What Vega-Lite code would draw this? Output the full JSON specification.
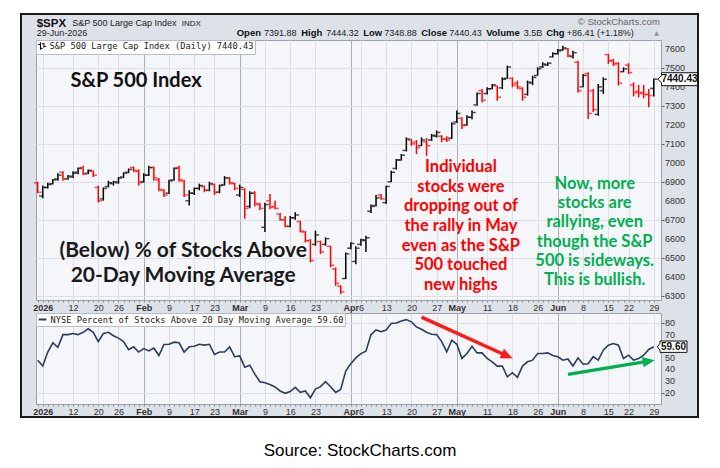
{
"$schema": "https://vega.github.io/schema/vega-lite/v6.json",
"background": "#ffffff",
"padding": {"left": 20, "top": 13, "right": 0, "bottom": 4},
"title": {"text": "Source: StockCharts.com", "orient": "bottom", "anchor": "middle", "font": "Liberation Sans", "fontSize": 17, "fontWeight": "normal", "color": "#000000", "offset": 25},
"datasets": {"days": [
{"d":"2025-12-31","o":6895,"h":6900,"l":6840,"c":6845,"p":48},
{"d":"2026-01-02","o":6825,"h":6880,"l":6813,"c":6870,"p":43},
{"d":"2026-01-05","o":6870,"h":6895,"l":6865,"c":6885,"p":55},
{"d":"2026-01-06","o":6890,"h":6915,"l":6885,"c":6910,"p":63},
{"d":"2026-01-07","o":6915,"h":6945,"l":6905,"c":6935,"p":59},
{"d":"2026-01-08","o":6950,"h":6955,"l":6905,"c":6915,"p":70},
{"d":"2026-01-09","o":6915,"h":6935,"l":6910,"c":6930,"p":70},
{"d":"2026-01-12","o":6925,"h":6955,"l":6920,"c":6945,"p":71},
{"d":"2026-01-13","o":6950,"h":6975,"l":6940,"c":6970,"p":70},
{"d":"2026-01-14","o":6975,"h":6985,"l":6935,"c":6940,"p":72},
{"d":"2026-01-15","o":6945,"h":6965,"l":6940,"c":6960,"p":75},
{"d":"2026-01-16","o":6955,"h":6960,"l":6925,"c":6935,"p":72},
{"d":"2026-01-20","o":6870,"h":6880,"l":6790,"c":6800,"p":64},
{"d":"2026-01-21","o":6810,"h":6870,"l":6800,"c":6865,"p":71},
{"d":"2026-01-22","o":6875,"h":6905,"l":6870,"c":6895,"p":72},
{"d":"2026-01-23","o":6890,"h":6905,"l":6880,"c":6900,"p":69},
{"d":"2026-01-26","o":6895,"h":6925,"l":6890,"c":6920,"p":67},
{"d":"2026-01-27","o":6925,"h":6950,"l":6920,"c":6945,"p":64},
{"d":"2026-01-28","o":6950,"h":6970,"l":6945,"c":6965,"p":57},
{"d":"2026-01-29","o":6975,"h":6980,"l":6950,"c":6960,"p":59.5},
{"d":"2026-01-30","o":6955,"h":6965,"l":6880,"c":6895,"p":55},
{"d":"2026-02-02","o":6900,"h":6945,"l":6895,"c":6935,"p":58},
{"d":"2026-02-03","o":6935,"h":6985,"l":6930,"c":6975,"p":56},
{"d":"2026-02-04","o":6975,"h":6980,"l":6905,"c":6920,"p":58.5},
{"d":"2026-02-05","o":6910,"h":6920,"l":6850,"c":6860,"p":52},
{"d":"2026-02-06","o":6855,"h":6860,"l":6820,"c":6830,"p":61.5},
{"d":"2026-02-09","o":6840,"h":6910,"l":6835,"c":6905,"p":61.7},
{"d":"2026-02-10","o":6910,"h":6975,"l":6905,"c":6970,"p":63.5},
{"d":"2026-02-11","o":6975,"h":6985,"l":6900,"c":6910,"p":63},
{"d":"2026-02-12","o":6905,"h":6910,"l":6820,"c":6830,"p":55},
{"d":"2026-02-13","o":6800,"h":6855,"l":6775,"c":6840,"p":59.5},
{"d":"2026-02-17","o":6840,"h":6870,"l":6830,"c":6865,"p":60},
{"d":"2026-02-18","o":6865,"h":6890,"l":6855,"c":6880,"p":61.7},
{"d":"2026-02-19","o":6875,"h":6880,"l":6845,"c":6855,"p":61},
{"d":"2026-02-20","o":6855,"h":6900,"l":6850,"c":6890,"p":61.7},
{"d":"2026-02-23","o":6885,"h":6890,"l":6830,"c":6845,"p":53},
{"d":"2026-02-24","o":6845,"h":6885,"l":6840,"c":6880,"p":55},
{"d":"2026-02-25","o":6885,"h":6930,"l":6880,"c":6920,"p":55},
{"d":"2026-02-26","o":6920,"h":6925,"l":6885,"c":6895,"p":59.5},
{"d":"2026-02-27","o":6890,"h":6895,"l":6855,"c":6865,"p":51},
{"d":"2026-03-02","o":6830,"h":6885,"l":6820,"c":6870,"p":51.7},
{"d":"2026-03-03","o":6860,"h":6865,"l":6705,"c":6760,"p":42},
{"d":"2026-03-04","o":6770,"h":6850,"l":6760,"c":6840,"p":43.7},
{"d":"2026-03-05","o":6840,"h":6850,"l":6770,"c":6785,"p":36},
{"d":"2026-03-06","o":6780,"h":6790,"l":6750,"c":6760,"p":29.5},
{"d":"2026-03-09","o":6660,"h":6790,"l":6635,"c":6780,"p":28.6},
{"d":"2026-03-10","o":6800,"h":6835,"l":6755,"c":6765,"p":27},
{"d":"2026-03-11","o":6770,"h":6800,"l":6755,"c":6760,"p":25},
{"d":"2026-03-12","o":6730,"h":6735,"l":6695,"c":6700,"p":21.5},
{"d":"2026-03-13","o":6700,"h":6720,"l":6660,"c":6665,"p":19.5},
{"d":"2026-03-16","o":6665,"h":6720,"l":6660,"c":6710,"p":21},
{"d":"2026-03-17","o":6710,"h":6740,"l":6700,"c":6725,"p":24.6},
{"d":"2026-03-18","o":6690,"h":6695,"l":6633,"c":6640,"p":20.3},
{"d":"2026-03-19","o":6635,"h":6640,"l":6580,"c":6590,"p":21.5},
{"d":"2026-03-20","o":6590,"h":6598,"l":6475,"c":6485,"p":15.7},
{"d":"2026-03-23","o":6570,"h":6642,"l":6563,"c":6620,"p":23.2},
{"d":"2026-03-24","o":6585,"h":6590,"l":6519,"c":6530,"p":25.2},
{"d":"2026-03-25","o":6570,"h":6607,"l":6563,"c":6600,"p":29.5},
{"d":"2026-03-26","o":6560,"h":6563,"l":6449,"c":6460,"p":25.2},
{"d":"2026-03-27","o":6440,"h":6449,"l":6352,"c":6365,"p":20.3},
{"d":"2026-03-30","o":6350,"h":6355,"l":6308,"c":6320,"p":22.9},
{"d":"2026-03-31","o":6390,"h":6528,"l":6387,"c":6520,"p":38.6},
{"d":"2026-04-01","o":6550,"h":6581,"l":6545,"c":6575,"p":45},
{"d":"2026-04-02","o":6480,"h":6560,"l":6466,"c":6550,"p":50},
{"d":"2026-04-06","o":6570,"h":6600,"l":6563,"c":6595,"p":53.7},
{"d":"2026-04-07","o":6590,"h":6615,"l":6530,"c":6605,"p":55.7},
{"d":"2026-04-08","o":6745,"h":6780,"l":6735,"c":6770,"p":70},
{"d":"2026-04-09","o":6775,"h":6830,"l":6770,"c":6815,"p":74},
{"d":"2026-04-10","o":6830,"h":6835,"l":6805,"c":6810,"p":72.5},
{"d":"2026-04-13","o":6790,"h":6880,"l":6783,"c":6875,"p":74},
{"d":"2026-04-14","o":6900,"h":6958,"l":6897,"c":6950,"p":79.5},
{"d":"2026-04-15","o":6970,"h":7020,"l":6965,"c":7015,"p":80},
{"d":"2026-04-16","o":7015,"h":7046,"l":7011,"c":7040,"p":81.7},
{"d":"2026-04-17","o":7065,"h":7134,"l":7060,"c":7125,"p":82.9},
{"d":"2026-04-20","o":7120,"h":7125,"l":7090,"c":7100,"p":81},
{"d":"2026-04-21","o":7110,"h":7120,"l":7046,"c":7080,"p":76.6},
{"d":"2026-04-22","o":7090,"h":7134,"l":7088,"c":7120,"p":74.6},
{"d":"2026-04-23","o":7110,"h":7130,"l":7037,"c":7090,"p":72},
{"d":"2026-04-24","o":7120,"h":7152,"l":7115,"c":7145,"p":70.3},
{"d":"2026-04-27","o":7140,"h":7170,"l":7134,"c":7160,"p":70},
{"d":"2026-04-28","o":7140,"h":7145,"l":7108,"c":7125,"p":64},
{"d":"2026-04-29","o":7125,"h":7140,"l":7110,"c":7120,"p":55.2},
{"d":"2026-04-30","o":7130,"h":7213,"l":7125,"c":7205,"p":65.2},
{"d":"2026-05-01","o":7215,"h":7275,"l":7210,"c":7260,"p":61.7},
{"d":"2026-05-04","o":7235,"h":7240,"l":7178,"c":7195,"p":49.5},
{"d":"2026-05-05","o":7200,"h":7250,"l":7195,"c":7240,"p":53.7},
{"d":"2026-05-06","o":7240,"h":7275,"l":7230,"c":7265,"p":60},
{"d":"2026-05-07","o":7305,"h":7371,"l":7300,"c":7365,"p":54.3},
{"d":"2026-05-08","o":7380,"h":7389,"l":7318,"c":7330,"p":54.3},
{"d":"2026-05-11","o":7365,"h":7398,"l":7360,"c":7390,"p":49.5},
{"d":"2026-05-12","o":7390,"h":7415,"l":7388,"c":7410,"p":46.6},
{"d":"2026-05-13","o":7405,"h":7407,"l":7327,"c":7345,"p":42.9},
{"d":"2026-05-14","o":7395,"h":7450,"l":7389,"c":7440,"p":42.9},
{"d":"2026-05-15","o":7445,"h":7512,"l":7442,"c":7505,"p":33.7},
{"d":"2026-05-18","o":7445,"h":7450,"l":7398,"c":7410,"p":37.2},
{"d":"2026-05-19","o":7420,"h":7433,"l":7389,"c":7400,"p":33.2},
{"d":"2026-05-20","o":7390,"h":7398,"l":7327,"c":7345,"p":42.9},
{"d":"2026-05-21","o":7360,"h":7433,"l":7354,"c":7425,"p":46.6},
{"d":"2026-05-22","o":7420,"h":7459,"l":7410,"c":7450,"p":48},
{"d":"2026-05-26","o":7460,"h":7503,"l":7459,"c":7495,"p":53.7},
{"d":"2026-05-27","o":7505,"h":7530,"l":7500,"c":7520,"p":53.7},
{"d":"2026-05-28","o":7515,"h":7530,"l":7510,"c":7525,"p":54.3},
{"d":"2026-05-29","o":7558,"h":7582,"l":7555,"c":7575,"p":52},
{"d":"2026-06-01","o":7575,"h":7600,"l":7570,"c":7590,"p":50.9},
{"d":"2026-06-02","o":7595,"h":7617,"l":7590,"c":7605,"p":48},
{"d":"2026-06-03","o":7600,"h":7605,"l":7556,"c":7565,"p":49},
{"d":"2026-06-04","o":7560,"h":7590,"l":7550,"c":7580,"p":43},
{"d":"2026-06-05","o":7530,"h":7538,"l":7371,"c":7380,"p":50},
{"d":"2026-06-08","o":7400,"h":7468,"l":7398,"c":7460,"p":44.5},
{"d":"2026-06-09","o":7470,"h":7477,"l":7231,"c":7260,"p":45},
{"d":"2026-06-10","o":7380,"h":7389,"l":7266,"c":7280,"p":51},
{"d":"2026-06-11","o":7255,"h":7415,"l":7248,"c":7400,"p":48},
{"d":"2026-06-12","o":7380,"h":7450,"l":7363,"c":7440,"p":56.6},
{"d":"2026-06-15","o":7570,"h":7575,"l":7521,"c":7535,"p":60.9},
{"d":"2026-06-16","o":7540,"h":7547,"l":7510,"c":7520,"p":62.3},
{"d":"2026-06-17","o":7525,"h":7530,"l":7407,"c":7420,"p":60.9},
{"d":"2026-06-18","o":7480,"h":7503,"l":7477,"c":7495,"p":49.5},
{"d":"2026-06-22","o":7515,"h":7525,"l":7468,"c":7475,"p":52.3},
{"d":"2026-06-23","o":7410,"h":7424,"l":7350,"c":7370,"p":48},
{"d":"2026-06-24","o":7375,"h":7410,"l":7345,"c":7365,"p":49.5},
{"d":"2026-06-25","o":7370,"h":7410,"l":7340,"c":7360,"p":52.3},
{"d":"2026-06-26","o":7360,"h":7389,"l":7292,"c":7354.02,"p":57.2},
{"d":"2026-06-29","o":7391.88,"h":7444.32,"l":7348.88,"c":7440.43,"p":59.6}
],
"priceTicks": [{"v":6300},{"v":6400},{"v":6500},{"v":6600},{"v":6700},{"v":6800},{"v":6900},{"v":7000},{"v":7100},{"v":7200},{"v":7300},{"v":7400},{"v":7500},{"v":7600}],
"pctTicks": [{"v":20},{"v":30},{"v":40},{"v":50},{"v":70},{"v":80}]
},
"align": "none",
"spacing": -402,
"resolve": {"scale": {"color": "independent"}, "legend": {"color": "independent"}},
"vconcat": [
{"width": 677, "height": 403, "data": {"values": []}, "mark": "point", "view": {"fill": "#dde1e8", "stroke": "#1b1b1b", "strokeWidth": 2}},
{"spacing": 0, "resolve": {"scale": {"color": "independent"}, "legend": {"color": "independent"}}, "hconcat": [
 {"width": 11, "height": 5, "data": {"values": []}, "mark": "point", "view": {"stroke": null, "fill": null}},
 {"align": "none", "spacing": -4, "resolve": {"scale": {"color": "independent"}, "legend": {"color": "independent"}}, "vconcat": [
  {"width": 625, "height": 260, "data": {"name": "days"},
   "encoding": {"x": {"field": "d", "type": "ordinal", "title": null, "scale": {"type": "point", "padding": 0.88, "align": 0.19},
     "axis": {"orient": "bottom", "labelAngle": 0, "labelOverlap": false, "labelBound": false, "labelFlush": false, "labelFont": "Liberation Sans", "labelFontSize": 9, "labelColor": "#333333", "labelPadding": 1, "domain": false, "ticks": true, "tickSize": 2, "tickColor": "#8a8f98", "grid": true,
      "labelExpr": "indexof(['2026-01-02','2026-01-12','2026-01-20','2026-01-26','2026-02-02','2026-02-09','2026-02-17','2026-02-23','2026-03-02','2026-03-09','2026-03-16','2026-03-23','2026-04-01','2026-04-06','2026-04-13','2026-04-20','2026-04-27','2026-05-01','2026-05-11','2026-05-18','2026-05-26','2026-06-01','2026-06-08','2026-06-15','2026-06-22','2026-06-29'], datum.value) < 0 ? '' : datum.value == '2026-01-02' ? '2026' : indexof(['2026-02-02','2026-03-02','2026-04-01','2026-05-01','2026-06-01'], datum.value) >= 0 ? ['Jan','Feb','Mar','Apr','May','Jun'][toNumber(substring(datum.value,5,7))-1] : '' + toNumber(substring(datum.value,8,10))",
      "labelFontWeight": {"condition": {"test": "indexof(['2026-01-02','2026-02-02','2026-03-02','2026-04-01','2026-05-01','2026-06-01'], datum.value) >= 0", "value": "bold"}, "value": "normal"},
      "gridColor": {"condition": {"test": "indexof(['2026-02-02','2026-03-02','2026-04-01','2026-05-01','2026-06-01'], datum.value) >= 0", "value": "#aab0ba"}, "value": "#dde1e7"},
      "gridOpacity": {"condition": {"test": "indexof(['2026-01-02','2026-01-12','2026-01-20','2026-01-26','2026-02-02','2026-02-09','2026-02-17','2026-02-23','2026-03-02','2026-03-09','2026-03-16','2026-03-23','2026-04-01','2026-04-06','2026-04-13','2026-04-20','2026-04-27','2026-05-01','2026-05-11','2026-05-18','2026-05-26','2026-06-01','2026-06-08','2026-06-15','2026-06-22','2026-06-29'], datum.value) >= 0", "value": 1}, "value": 0}}}},
   "layer": [
    {"mark": {"type": "rule", "strokeWidth": 1.5},
     "encoding": {"y": {"field": "l", "type": "quantitative", "title": null, "scale": {"domain": [6277, 7647], "nice": false, "zero": false},
        "axis": {"orient": "right", "values": [6300,6400,6500,6600,6700,6800,6900,7000,7100,7200,7300,7400,7500,7600], "labels": false, "tickSize": 3, "tickColor": "#666666", "gridColor": "#dde1e7", "domain": false}},
      "y2": {"field": "h"},
      "color": {"datum": "S&P 500 Large Cap Index (Daily) 7440.43", "type": "nominal", "condition": {"test": "datum.c < datum.o", "value": "#ff0000"}, "scale": {"range": ["#000000"]},
        "legend": {"orient": "top-left", "offset": 0, "title": null, "padding": 1.5, "fillColor": "#ffffff", "strokeColor": "#b7bdc6", "labelFont": "DejaVu Sans Mono", "labelFontSize": 8.7, "labelColor": "#222222", "labelLimit": 400, "labelOffset": 3, "symbolType": "M-0.4,-1V1M-0.4,-0.4H-1M-0.4,0.6H0.2M0.5,-0.8V0.4M0.5,-0.6H0M0.5,0.1H1", "symbolSize": 60, "symbolStrokeWidth": 1, "symbolFillColor": "transparent"}}}},
    {"mark": {"type": "tick", "orient": "horizontal", "size": 3, "thickness": 1.5, "xOffset": -2.2},
     "encoding": {"y": {"field": "o", "type": "quantitative", "title": null, "scale": {"domain": [6277, 7647], "nice": false, "zero": false}},
      "color": {"condition": {"test": "datum.c < datum.o", "value": "#ff0000"}, "value": "#000000"}}},
    {"mark": {"type": "tick", "orient": "horizontal", "size": 3, "thickness": 1.5, "xOffset": 2.2},
     "encoding": {"y": {"field": "c", "type": "quantitative", "title": null, "scale": {"domain": [6277, 7647], "nice": false, "zero": false}},
      "color": {"condition": {"test": "datum.c < datum.o", "value": "#ff0000"}, "value": "#000000"}}},
    {"data": {"name": "priceTicks"}, "mark": {"type": "text", "align": "left", "baseline": "middle", "dx": 11.2, "font": "Liberation Sans", "fontSize": 9, "color": "#333333"},
     "encoding": {"x": {"datum": "2026-06-29", "type": "ordinal", "title": null}, "y": {"field": "v", "type": "quantitative", "title": null}, "text": {"field": "v", "type": "quantitative", "format": "d"}}},
    {"data": {"values": [{}]}, "mark": {"type": "text", "text": "S&P 500 Index", "align": "center", "baseline": "middle", "dx": 2.4, "font": "Lato", "fontSize": 20, "fontWeight": "bold", "color": "#111111"},
     "encoding": {"x": {"datum": "2026-01-29", "type": "ordinal", "title": null}, "y": {"datum": 7433, "type": "quantitative", "title": null}}},
    {"data": {"values": [{}]}, "mark": {"type": "text", "text": ["(Below) % of Stocks Above", "20-Day Moving Average"], "lineHeight": 25, "align": "center", "baseline": "middle", "dx": -1, "font": "Lato", "fontSize": 21, "fontWeight": "bold", "color": "#1a1a1a"},
     "encoding": {"x": {"datum": "2026-02-12", "type": "ordinal", "title": null}, "y": {"datum": 6537, "type": "quantitative", "title": null}}},
    {"data": {"values": [{}]}, "mark": {"type": "text", "text": ["Individual", "stocks were", "dropping out of", "the rally in May", "even as the S&P", "500 touched", "new highs"], "lineHeight": 19.7, "align": "center", "baseline": "middle", "dx": -1, "font": "Lato", "fontSize": 16.5, "fontWeight": "bold", "color": "#ff0000"},
     "encoding": {"x": {"datum": "2026-05-04", "type": "ordinal", "title": null}, "y": {"datum": 6978, "type": "quantitative", "title": null}}},
    {"data": {"values": [{}]}, "mark": {"type": "text", "text": ["Now, more", "stocks are", "rallying, even", "though the S&P", "500 is sideways.", "This is bullish."], "lineHeight": 19.2, "align": "center", "baseline": "middle", "dx": 1.5, "font": "Lato", "fontSize": 16.5, "fontWeight": "bold", "color": "#00b050"},
     "encoding": {"x": {"datum": "2026-06-10", "type": "ordinal", "title": null}, "y": {"datum": 6888, "type": "quantitative", "title": null}}},
    {"data": {"values": [{}]}, "mark": {"type": "text", "text": "$SPX", "align": "left", "baseline": "alphabetic", "dx": -1, "dy": -13, "font": "Liberation Sans", "fontSize": 11.5, "fontWeight": "bold", "color": "#111111"},
     "encoding": {"x": {"datum": "2025-12-31", "type": "ordinal", "title": null}, "y": {"datum": 7647, "type": "quantitative", "title": null}}},
    {"data": {"values": [{}]}, "mark": {"type": "text", "text": "S&P 500 Large Cap Index", "align": "left", "baseline": "alphabetic", "dx": 34.5, "dy": -14, "font": "Liberation Sans", "fontSize": 9, "color": "#222222"},
     "encoding": {"x": {"datum": "2025-12-31", "type": "ordinal", "title": null}, "y": {"datum": 7647, "type": "quantitative", "title": null}}},
    {"data": {"values": [{}]}, "mark": {"type": "text", "text": "INDX", "align": "left", "baseline": "alphabetic", "dx": 144, "dy": -14, "font": "Liberation Sans", "fontSize": 8, "color": "#222222"},
     "encoding": {"x": {"datum": "2025-12-31", "type": "ordinal", "title": null}, "y": {"datum": 7647, "type": "quantitative", "title": null}}},
    {"data": {"values": [{}]}, "mark": {"type": "text", "text": "29-Jun-2026", "align": "left", "baseline": "alphabetic", "dx": -1, "dy": -4, "font": "Liberation Sans", "fontSize": 9, "color": "#222222"},
     "encoding": {"x": {"datum": "2025-12-31", "type": "ordinal", "title": null}, "y": {"datum": 7647, "type": "quantitative", "title": null}}},
    {"data": {"values": [{}]}, "mark": {"type": "text", "text": "© StockCharts.com", "align": "right", "baseline": "alphabetic", "dx": 6, "dy": -15, "font": "Liberation Sans", "fontSize": 9.5, "color": "#666666"},
     "encoding": {"x": {"datum": "2026-06-29", "type": "ordinal", "title": null}, "y": {"datum": 7647, "type": "quantitative", "title": null}}},
    {"data": {"values": [{}]}, "mark": {"type": "text", "text": "Open", "align": "left", "baseline": "alphabetic", "dx": 199, "dy": -4, "font": "Liberation Sans", "fontSize": 9.5, "fontWeight": "bold", "color": "#111111"},
     "encoding": {"x": {"datum": "2025-12-31", "type": "ordinal", "title": null}, "y": {"datum": 7647, "type": "quantitative", "title": null}}},
    {"data": {"values": [{}]}, "mark": {"type": "text", "text": "7391.88", "align": "left", "baseline": "alphabetic", "dx": 226.4, "dy": -4, "font": "Liberation Sans", "fontSize": 9, "color": "#222222"},
     "encoding": {"x": {"datum": "2025-12-31", "type": "ordinal", "title": null}, "y": {"datum": 7647, "type": "quantitative", "title": null}}},
    {"data": {"values": [{}]}, "mark": {"type": "text", "text": "High", "align": "left", "baseline": "alphabetic", "dx": 263.5, "dy": -4, "font": "Liberation Sans", "fontSize": 9.5, "fontWeight": "bold", "color": "#111111"},
     "encoding": {"x": {"datum": "2025-12-31", "type": "ordinal", "title": null}, "y": {"datum": 7647, "type": "quantitative", "title": null}}},
    {"data": {"values": [{}]}, "mark": {"type": "text", "text": "7444.32", "align": "left", "baseline": "alphabetic", "dx": 288.5, "dy": -4, "font": "Liberation Sans", "fontSize": 9, "color": "#222222"},
     "encoding": {"x": {"datum": "2025-12-31", "type": "ordinal", "title": null}, "y": {"datum": 7647, "type": "quantitative", "title": null}}},
    {"data": {"values": [{}]}, "mark": {"type": "text", "text": "Low", "align": "left", "baseline": "alphabetic", "dx": 325.5, "dy": -4, "font": "Liberation Sans", "fontSize": 9.5, "fontWeight": "bold", "color": "#111111"},
     "encoding": {"x": {"datum": "2025-12-31", "type": "ordinal", "title": null}, "y": {"datum": 7647, "type": "quantitative", "title": null}}},
    {"data": {"values": [{}]}, "mark": {"type": "text", "text": "7348.88", "align": "left", "baseline": "alphabetic", "dx": 346.5, "dy": -4, "font": "Liberation Sans", "fontSize": 9, "color": "#222222"},
     "encoding": {"x": {"datum": "2025-12-31", "type": "ordinal", "title": null}, "y": {"datum": 7647, "type": "quantitative", "title": null}}},
    {"data": {"values": [{}]}, "mark": {"type": "text", "text": "Close", "align": "left", "baseline": "alphabetic", "dx": 383.5, "dy": -4, "font": "Liberation Sans", "fontSize": 9.5, "fontWeight": "bold", "color": "#111111"},
     "encoding": {"x": {"datum": "2025-12-31", "type": "ordinal", "title": null}, "y": {"datum": 7647, "type": "quantitative", "title": null}}},
    {"data": {"values": [{}]}, "mark": {"type": "text", "text": "7440.43", "align": "left", "baseline": "alphabetic", "dx": 411.5, "dy": -4, "font": "Liberation Sans", "fontSize": 9, "color": "#222222"},
     "encoding": {"x": {"datum": "2025-12-31", "type": "ordinal", "title": null}, "y": {"datum": 7647, "type": "quantitative", "title": null}}},
    {"data": {"values": [{}]}, "mark": {"type": "text", "text": "Volume", "align": "left", "baseline": "alphabetic", "dx": 448.5, "dy": -4, "font": "Liberation Sans", "fontSize": 9.5, "fontWeight": "bold", "color": "#111111"},
     "encoding": {"x": {"datum": "2025-12-31", "type": "ordinal", "title": null}, "y": {"datum": 7647, "type": "quantitative", "title": null}}},
    {"data": {"values": [{}]}, "mark": {"type": "text", "text": "3.5B", "align": "left", "baseline": "alphabetic", "dx": 486, "dy": -4, "font": "Liberation Sans", "fontSize": 9, "color": "#222222"},
     "encoding": {"x": {"datum": "2025-12-31", "type": "ordinal", "title": null}, "y": {"datum": 7647, "type": "quantitative", "title": null}}},
    {"data": {"values": [{}]}, "mark": {"type": "text", "text": "Chg", "align": "left", "baseline": "alphabetic", "dx": 508.5, "dy": -4, "font": "Liberation Sans", "fontSize": 9.5, "fontWeight": "bold", "color": "#111111"},
     "encoding": {"x": {"datum": "2025-12-31", "type": "ordinal", "title": null}, "y": {"datum": 7647, "type": "quantitative", "title": null}}},
    {"data": {"values": [{}]}, "mark": {"type": "text", "text": "+86.41 (+1.18%)", "align": "left", "baseline": "alphabetic", "dx": 529, "dy": -4, "font": "Liberation Sans", "fontSize": 9, "color": "#222222"},
     "encoding": {"x": {"datum": "2025-12-31", "type": "ordinal", "title": null}, "y": {"datum": 7647, "type": "quantitative", "title": null}}},
    {"data": {"values": [{}]}, "mark": {"type": "text", "text": "▲", "align": "left", "baseline": "alphabetic", "dx": 616.5, "dy": -5, "font": "DejaVu Sans", "fontSize": 6, "color": "#8a8f98"},
     "encoding": {"x": {"datum": "2025-12-31", "type": "ordinal", "title": null}, "y": {"datum": 7647, "type": "quantitative", "title": null}}},
    {"data": {"values": [{}]}, "mark": {"type": "point", "shape": "M-1.2,0L-1,-0.2V-0.36H1V0.36H-1V0.2Z", "size": 1296, "filled": true, "fill": "#ffffff", "stroke": "#111111", "strokeWidth": 1, "opacity": 1, "xOffset": 25.7},
     "encoding": {"x": {"datum": "2026-06-29", "type": "ordinal", "title": null}, "y": {"datum": 7440.43, "type": "quantitative", "title": null}}},
    {"data": {"values": [{}]}, "mark": {"type": "text", "text": "7440.43", "align": "center", "baseline": "middle", "dx": 25.7, "font": "Liberation Sans", "fontSize": 10, "fontWeight": "bold", "color": "#111111"},
     "encoding": {"x": {"datum": "2026-06-29", "type": "ordinal", "title": null}, "y": {"datum": 7440.43, "type": "quantitative", "title": null}}}
   ]},
  {"width": 625, "height": 91, "data": {"name": "days"},
   "encoding": {"x": {"field": "d", "type": "ordinal", "title": null, "scale": {"type": "point", "padding": 0.88, "align": 0.19},
     "axis": {"orient": "bottom", "labelAngle": 0, "labelOverlap": false, "labelBound": false, "labelFlush": false, "labelFont": "Liberation Sans", "labelFontSize": 9, "labelColor": "#333333", "labelPadding": 1, "domain": false, "ticks": true, "tickSize": 2, "tickColor": "#8a8f98", "grid": true,
      "labelExpr": "indexof(['2026-01-02','2026-01-12','2026-01-20','2026-01-26','2026-02-02','2026-02-09','2026-02-17','2026-02-23','2026-03-02','2026-03-09','2026-03-16','2026-03-23','2026-04-01','2026-04-06','2026-04-13','2026-04-20','2026-04-27','2026-05-01','2026-05-11','2026-05-18','2026-05-26','2026-06-01','2026-06-08','2026-06-15','2026-06-22','2026-06-29'], datum.value) < 0 ? '' : datum.value == '2026-01-02' ? '2026' : indexof(['2026-02-02','2026-03-02','2026-04-01','2026-05-01','2026-06-01'], datum.value) >= 0 ? ['Jan','Feb','Mar','Apr','May','Jun'][toNumber(substring(datum.value,5,7))-1] : '' + toNumber(substring(datum.value,8,10))",
      "labelFontWeight": {"condition": {"test": "indexof(['2026-01-02','2026-02-02','2026-03-02','2026-04-01','2026-05-01','2026-06-01'], datum.value) >= 0", "value": "bold"}, "value": "normal"},
      "gridColor": {"condition": {"test": "indexof(['2026-02-02','2026-03-02','2026-04-01','2026-05-01','2026-06-01'], datum.value) >= 0", "value": "#aab0ba"}, "value": "#dde1e7"},
      "gridOpacity": {"condition": {"test": "indexof(['2026-01-02','2026-01-12','2026-01-20','2026-01-26','2026-02-02','2026-02-09','2026-02-17','2026-02-23','2026-03-02','2026-03-09','2026-03-16','2026-03-23','2026-04-01','2026-04-06','2026-04-13','2026-04-20','2026-04-27','2026-05-01','2026-05-11','2026-05-18','2026-05-26','2026-06-01','2026-06-08','2026-06-15','2026-06-22','2026-06-29'], datum.value) >= 0", "value": 1}, "value": 0}}}},
   "layer": [
    {"mark": {"type": "line", "strokeWidth": 1.6},
     "encoding": {"y": {"field": "p", "type": "quantitative", "title": null, "scale": {"domain": [10.3, 88.6], "nice": false, "zero": false},
        "axis": {"orient": "right", "values": [20,30,40,50,60,70,80], "labels": false, "tickSize": 3, "tickColor": "#666666", "gridColor": "#dde1e7", "domain": false}},
      "color": {"datum": "NYSE Percent of Stocks Above 20 Day Moving Average 59.60", "type": "nominal", "scale": {"range": ["#2c3d5f"]},
        "legend": {"orient": "top-left", "offset": 0, "title": null, "padding": 1.5, "fillColor": "#ffffff", "strokeColor": "#b7bdc6", "labelFont": "DejaVu Sans Mono", "labelFontSize": 8.7, "labelColor": "#222222", "labelLimit": 500, "labelOffset": 3, "symbolType": "stroke", "symbolSize": 60, "symbolStrokeWidth": 2}}}},
    {"data": {"name": "pctTicks"}, "mark": {"type": "text", "align": "left", "baseline": "middle", "dx": 11.2, "font": "Liberation Sans", "fontSize": 9, "color": "#333333"},
     "encoding": {"x": {"datum": "2026-06-29", "type": "ordinal", "title": null}, "y": {"field": "v", "type": "quantitative", "title": null}, "text": {"field": "v", "type": "quantitative", "format": "d"}}},
    {"data": {"values": [{"d": "2026-04-22", "v": 85}, {"d": "2026-05-15", "v": 51.6}]}, "mark": {"type": "line", "color": "#ff1a1a", "strokeWidth": 3.5},
     "encoding": {"x": {"field": "d", "type": "ordinal", "title": null}, "y": {"field": "v", "type": "quantitative", "title": null, "scale": {"domain": [10.3, 88.6], "nice": false, "zero": false}}}},
    {"data": {"values": [{"d": "2026-05-15", "v": 51.6}]}, "mark": {"type": "point", "shape": "M-1,-0.85L1,0L-1,0.85Z", "size": 144, "filled": true, "color": "#ff1a1a", "opacity": 1, "angle": 24.5},
     "encoding": {"x": {"field": "d", "type": "ordinal", "title": null}, "y": {"field": "v", "type": "quantitative", "title": null, "scale": {"domain": [10.3, 88.6], "nice": false, "zero": false}}}},
    {"data": {"values": [{"d": "2026-06-03", "v": 35.8}, {"d": "2026-06-26", "v": 47.2}]}, "mark": {"type": "line", "color": "#00b050", "strokeWidth": 3.5},
     "encoding": {"x": {"field": "d", "type": "ordinal", "title": null}, "y": {"field": "v", "type": "quantitative", "title": null, "scale": {"domain": [10.3, 88.6], "nice": false, "zero": false}}}},
    {"data": {"values": [{"d": "2026-06-26", "v": 47.2}]}, "mark": {"type": "point", "shape": "M-1,-0.85L1,0L-1,0.85Z", "size": 144, "filled": true, "color": "#00b050", "opacity": 1, "angle": 350.6},
     "encoding": {"x": {"field": "d", "type": "ordinal", "title": null}, "y": {"field": "v", "type": "quantitative", "title": null, "scale": {"domain": [10.3, 88.6], "nice": false, "zero": false}}}},
    {"data": {"values": [{}]}, "mark": {"type": "point", "shape": "M-1.2,0L-1,-0.25V-0.42H1V0.42H-1V0.25Z", "size": 729, "filled": true, "fill": "#ffffff", "stroke": "#111111", "strokeWidth": 1, "opacity": 1, "xOffset": 19.7},
     "encoding": {"x": {"datum": "2026-06-29", "type": "ordinal", "title": null}, "y": {"datum": 59.6, "type": "quantitative", "title": null}}},
    {"data": {"values": [{}]}, "mark": {"type": "text", "text": "59.60", "align": "center", "baseline": "middle", "dx": 19.7, "font": "Liberation Sans", "fontSize": 10, "fontWeight": "bold", "color": "#111111"},
     "encoding": {"x": {"datum": "2026-06-29", "type": "ordinal", "title": null}, "y": {"datum": 59.6, "type": "quantitative", "title": null}}}
   ]}
 ]}
]}
],
"config": {"view": {"stroke": "#9aa1ab", "strokeWidth": 1, "fill": "#f5f6f9"}}
}
